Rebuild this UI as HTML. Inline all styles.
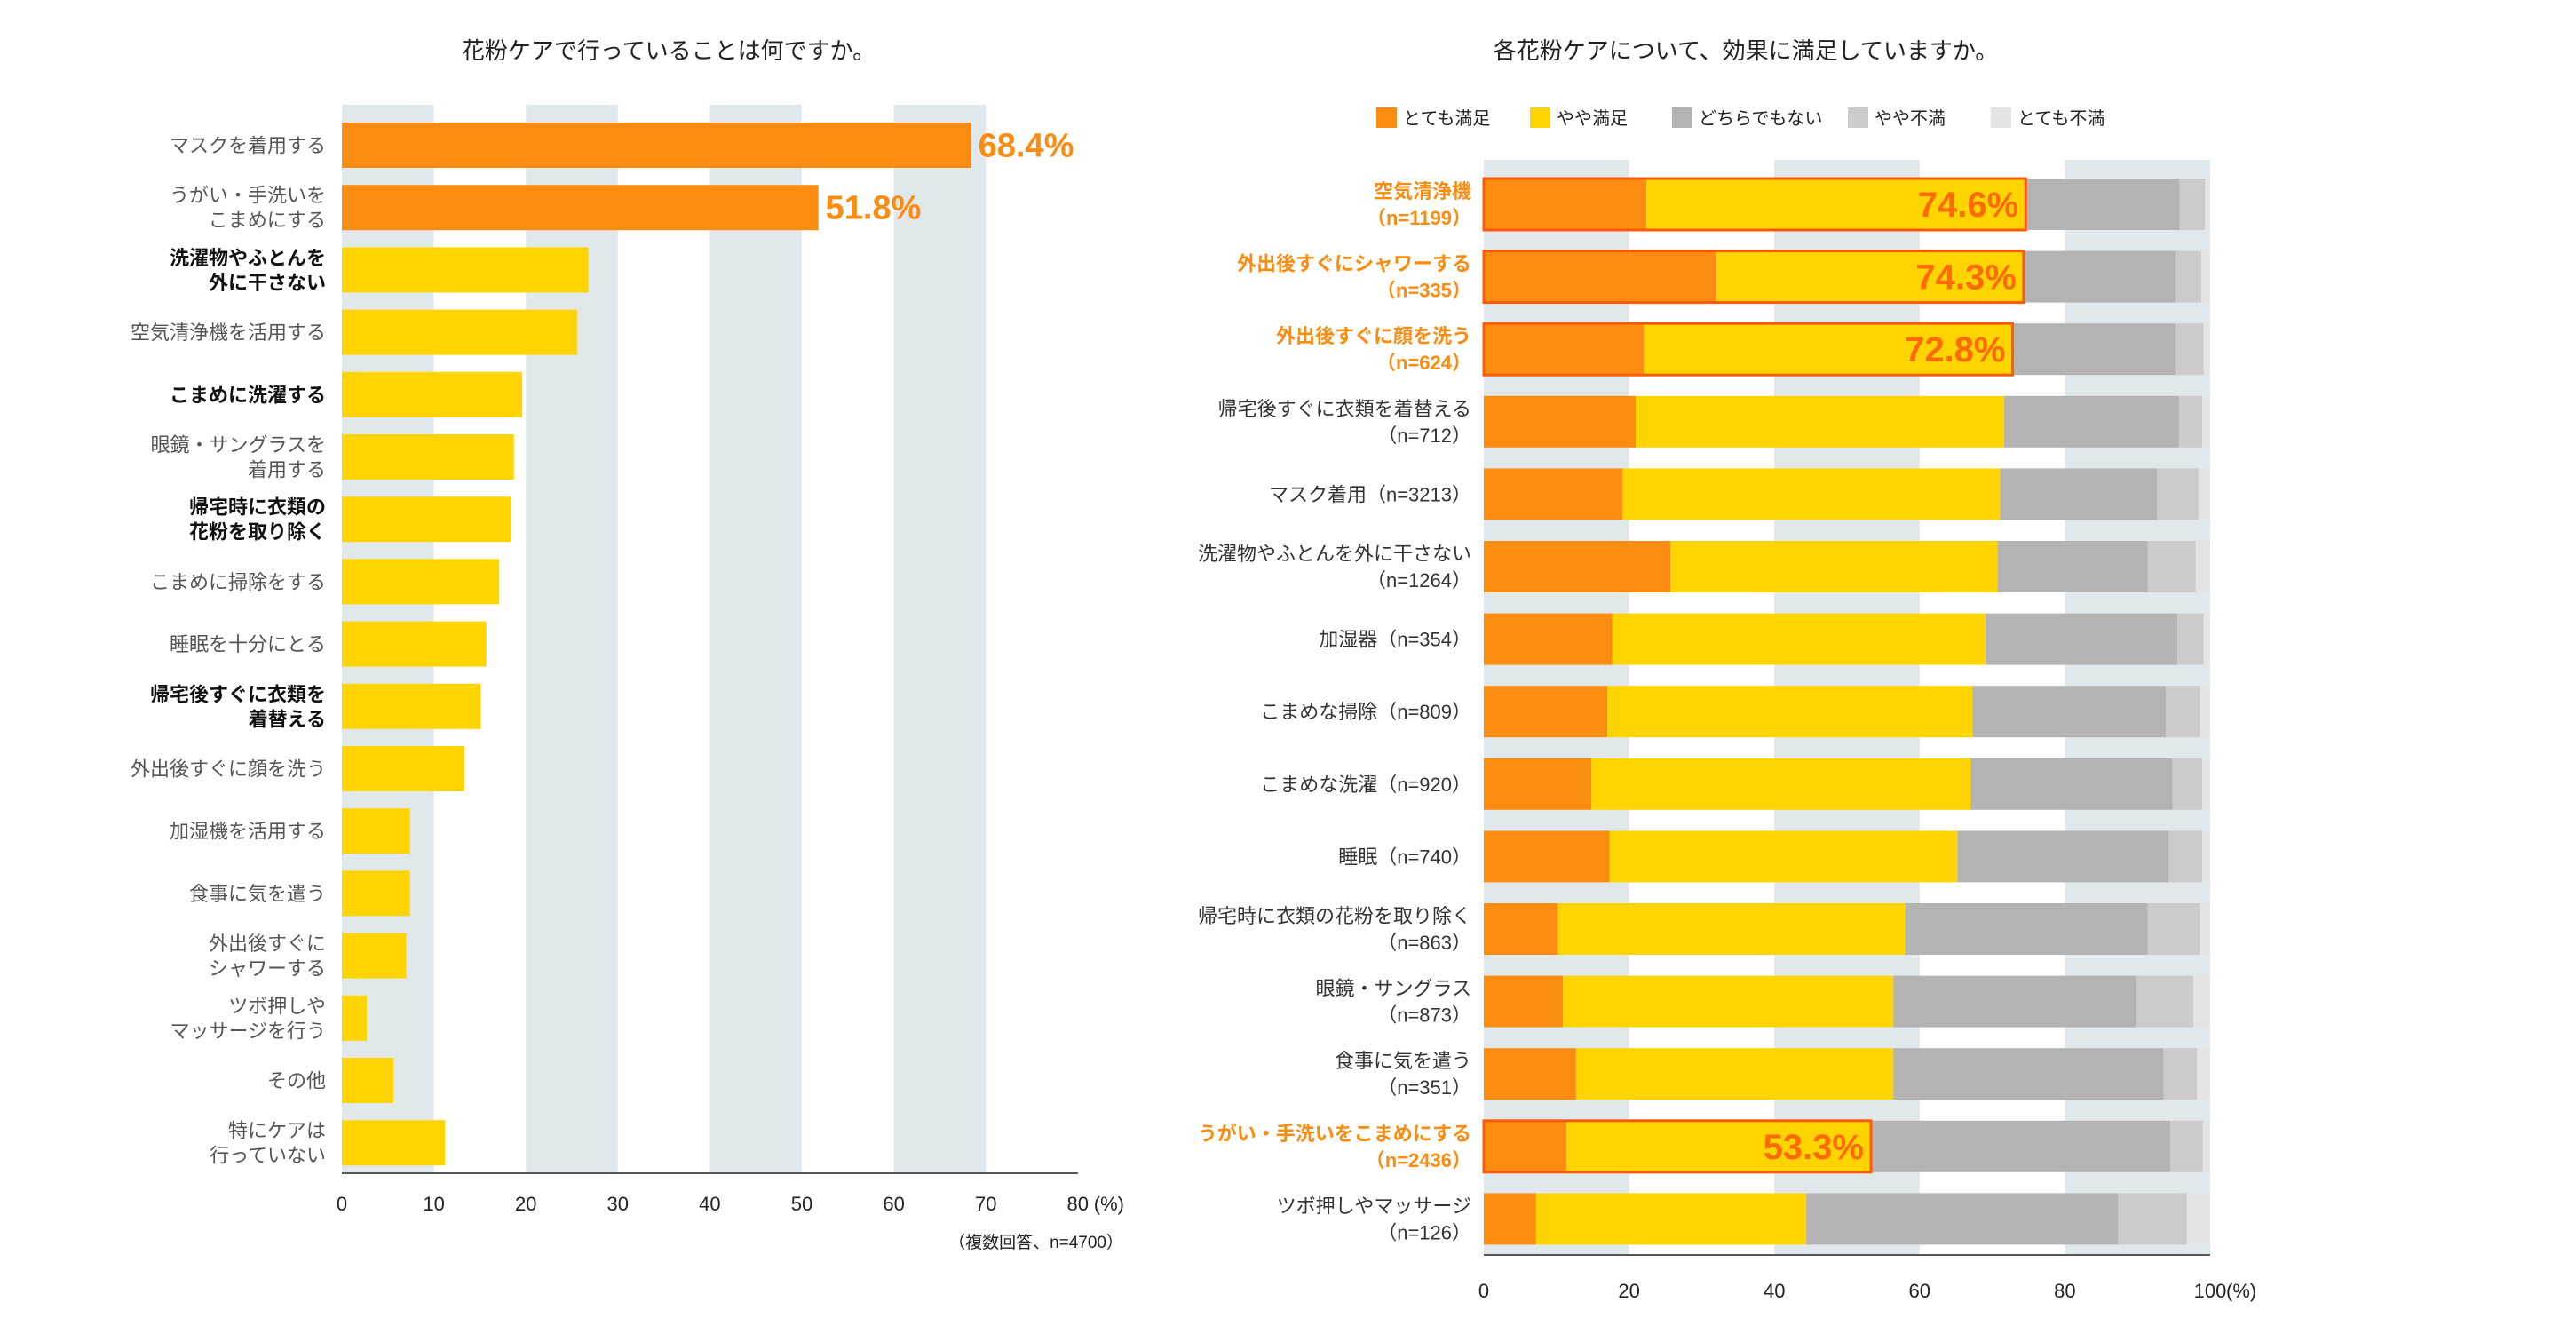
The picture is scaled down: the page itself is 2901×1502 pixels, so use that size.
<!DOCTYPE html>
<html><head><meta charset="utf-8"><style>
html,body{margin:0;padding:0;background:#fff;}
svg{display:block;font-family:"Liberation Sans","Noto Sans CJK JP",sans-serif;}
</style></head><body>
<svg id="c" width="2901" height="1502" viewBox="0 0 2901 1502" xmlns="http://www.w3.org/2000/svg">
<text x="753" y="66" font-size="26" fill="#222" text-anchor="middle">花粉ケアで行っていることは何ですか。</text>
<text x="1966" y="66" font-size="26" fill="#222" text-anchor="middle">各花粉ケアについて、効果に満足していますか。</text>
<g id="L"></g>
<g id="R"></g>
<g id="LG"></g>
</svg>
<script>
const leftCategories=[["マスクを着用する"],["うがい・手洗いを","こまめにする"],["洗濯物やふとんを","外に干さない"],["空気清浄機を活用する"],["こまめに洗濯する"],["眼鏡・サングラスを","着用する"],["帰宅時に衣類の","花粉を取り除く"],["こまめに掃除をする"],["睡眠を十分にとる"],["帰宅後すぐに衣類を","着替える"],["外出後すぐに顔を洗う"],["加湿機を活用する"],["食事に気を遣う"],["外出後すぐに","シャワーする"],["ツボ押しや","マッサージを行う"],["その他"],["特にケアは","行っていない"]];
const leftValues=[68.4,51.8,26.8,25.6,19.6,18.7,18.4,17.1,15.7,15.1,13.3,7.4,7.4,7.0,2.7,5.6,11.2];
const leftBold=[0,0,1,0,1,0,1,0,0,1,0,0,0,0,0,0,0];
const leftHighlight=[1,1,0,0,0,0,0,0,0,0,0,0,0,0,0,0,0];
const leftTicks=[0,10,20,30,40,50,60,70,80];

const rightCategories=[["空気清浄機","（n=1199）"],["外出後すぐにシャワーする","（n=335）"],["外出後すぐに顔を洗う","（n=624）"],["帰宅後すぐに衣類を着替える","（n=712）"],["マスク着用（n=3213）"],["洗濯物やふとんを外に干さない","（n=1264）"],["加湿器（n=354）"],["こまめな掃除（n=809）"],["こまめな洗濯（n=920）"],["睡眠（n=740）"],["帰宅時に衣類の花粉を取り除く","（n=863）"],["眼鏡・サングラス","（n=873）"],["食事に気を遣う","（n=351）"],["うがい・手洗いをこまめにする","（n=2436）"],["ツボ押しやマッサージ","（n=126）"]];
const verySatisfied=[22.4,32.0,22.0,20.9,19.1,25.7,17.7,17.0,14.8,17.3,10.2,10.9,12.7,11.4,7.2];
const somewhatSatisfied=[52.2,42.3,50.8,50.7,52.0,45.0,51.4,50.3,52.2,47.9,47.8,45.5,43.7,41.9,37.2];
const neutral=[21.2,20.9,22.4,24.1,21.6,20.7,26.4,26.6,27.8,29.1,33.4,33.4,37.2,41.2,42.9];
const somewhatDissatisfied=[3.5,3.6,3.9,3.2,5.7,6.6,3.6,4.7,4.1,4.6,7.2,7.9,4.6,4.5,9.5];
const veryDissatisfied=[0.7,1.2,0.9,1.1,1.6,2.0,0.9,1.4,1.1,1.1,1.4,2.3,1.8,1.0,3.2];
const rightHighlight=[1,1,1,0,0,0,0,0,0,0,0,0,0,1,0];
const rightTicks=[0,20,40,60,80,100];
const legendLabels=["とても満足","やや満足","どちらでもない","やや不満","とても不満"];

const NS="http://www.w3.org/2000/svg";
function mk(p,tag,at,txt){const e=document.createElementNS(NS,tag);for(const k in at)e.setAttribute(k,at[k]);if(txt!==undefined)e.textContent=txt;p.appendChild(e);return e;}
const cols=["#FA8C12","#FFD400","#B3B3B3","#CBCBCB","#E4E4E4"];

// LEFT
const L=document.getElementById('L');
const lx=v=>385+v*10.36;
const ly=i=>138+i*70.2;
for(let k=0;k<8;k+=2){const b=mk(L,'rect',{x:lx(k*10),y:118,width:lx(10)-lx(0),height:1202,fill:'#E1E8EC'});

}
leftValues.forEach((v,i)=>{
 const r=mk(L,'rect',{x:lx(0),y:ly(i),width:lx(v)-lx(0),height:51,fill:leftHighlight[i]?cols[0]:cols[1]});
 
 
 const lines=leftCategories[i];const cy=ly(i)+25.5;
 lines.forEach((t,j)=>{const tx=mk(L,'text',{x:367,y:cy+(j-(lines.length-1)/2)*28+8,'font-size':22,'text-anchor':'end',fill:leftBold[i]?'#111':'#555','font-weight':leftBold[i]?'bold':'normal'},t);
 
 });
 if(leftHighlight[i]){const vt=mk(L,'text',{x:lx(v)+8,y:cy+13,'font-size':38,'font-weight':'bold',fill:'#FA8C12'},v.toFixed(1)+'%');
 
 }
});
const la=mk(L,'line',{x1:lx(0),y1:1321,x2:lx(80),y2:1321,stroke:'#555','stroke-width':2});


leftTicks.forEach(t=>{const tt=mk(L,'text',{x:lx(t),y:1363,'font-size':22,'text-anchor':'middle',fill:'#222'},String(t));

});
const lu=mk(L,'text',{x:lx(80)+18,y:1363,'font-size':22,fill:'#222'},'(%)');


const ln=mk(L,'text',{x:1265,y:1405,'font-size':19,'text-anchor':'end',fill:'#222'},'（複数回答、n=4700）');



// RIGHT
const R=document.getElementById('R');
const rx=v=>1671+v*8.18;
const ry=i=>201+i*81.6;
for(let k=0;k<100;k+=40){const b=mk(R,'rect',{x:rx(k),y:180,width:rx(20)-rx(0),height:1232,fill:'#E1E8EC'});

}
const series=[verySatisfied,somewhatSatisfied,neutral,somewhatDissatisfied,veryDissatisfied];
rightCategories.forEach((c,i)=>{
 let acc=0;
 series.forEach((s,si)=>{const r=mk(R,'rect',{x:rx(acc),y:ry(i),width:rx(acc+s[i])-rx(acc),height:58,fill:cols[si]});
 
 
 acc+=s[i];});
 const hl=rightHighlight[i];const cy=ry(i)+29;
 c.forEach((t,j)=>{const tx=mk(R,'text',{x:1657,y:cy+(j-(c.length-1)/2)*30+8,'font-size':22,'text-anchor':'end',fill:hl?'#FA8C12':'#333','font-weight':hl?'bold':'normal'},t);
 
 });
 if(hl){const sat=verySatisfied[i]+somewhatSatisfied[i];
  const bx=mk(R,'rect',{x:rx(0),y:ry(i),width:rx(sat)-rx(0),height:58,fill:'none',stroke:'#FF5A0A','stroke-width':3});
  
  
  const vt=mk(R,'text',{x:rx(sat)-8,y:cy+14,'font-size':40,'font-weight':'bold','text-anchor':'end',fill:'#FF6A00'},sat.toFixed(1)+'%');
  
  }
});
const ra=mk(R,'line',{x1:rx(0),y1:1413,x2:rx(100),y2:1413,stroke:'#555','stroke-width':2});


rightTicks.forEach(t=>{const tt=mk(R,'text',{x:rx(t),y:1461,'font-size':22,'text-anchor':'middle',fill:'#222'},String(t));

});
const ru=mk(R,'text',{x:rx(100)+18,y:1461,'font-size':22,fill:'#222'},'(%)');



// LEGEND
const LG=document.getElementById('LG');
const legX=[1550,1723,1883,2081,2242];
legendLabels.forEach((t,i)=>{const g=mk(LG,'g',{});
 
 
 mk(g,'rect',{x:legX[i],y:121,width:23,height:23,fill:cols[i]});
 mk(g,'text',{x:legX[i]+30,y:140,'font-size':20,fill:'#222'},t);});
</script>
</body></html>
